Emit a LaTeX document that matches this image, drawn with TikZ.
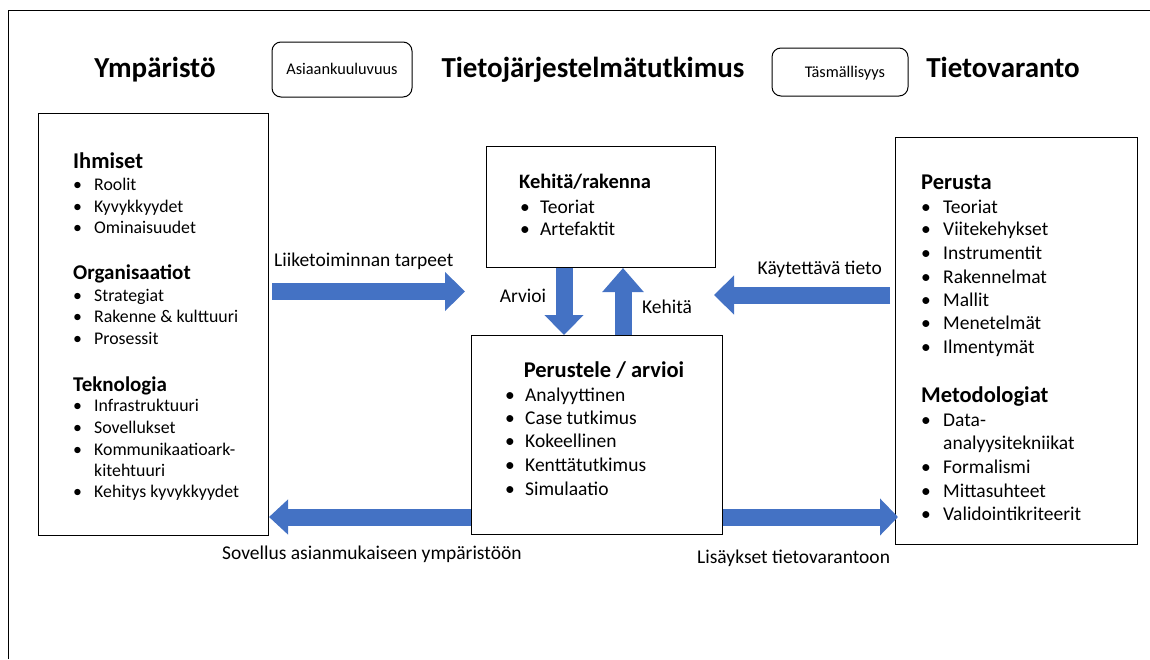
\documentclass[tikz,border=0pt]{standalone}
\usepackage{fontspec}
\setmainfont{Carlito}
\usetikzlibrary{arrows.meta,positioning}
\definecolor{arrowblue}{HTML}{4472C4}

\begin{document}
\begin{tikzpicture}
    [
    x=1pt,y=-1pt,
    every node/.style={inner sep=0pt},
    title/.style={font=\fontsize{29}{33}\selectfont\bfseries,text height=18.5pt,text depth=0pt},
    head/.style={anchor=west,font=\fontsize{22.5}{26}\selectfont\bfseries,text height=14.5pt,text depth=0pt},
    subhead/.style={anchor=west,font=\fontsize{21}{25}\selectfont\bfseries,text height=13.5pt,text depth=0pt},
    item/.style={anchor=west,font=\fontsize{19.5}{23}\selectfont,text height=12.5pt,text depth=0pt},
    envitem/.style={anchor=west,font=\fontsize{17.8}{21}\selectfont,text height=11.5pt,text depth=0pt},
    lbl/.style={item},
    box/.style={draw,line width=1pt,anchor=north west},
    tag/.style={draw,line width=1pt,rounded corners=9pt,font=\fontsize{16.3}{19}\selectfont,text height=10.5pt,text depth=0pt},
    bigarrow/.style={draw=arrowblue,line width=17pt,-{Triangle[length=20pt,width=38pt]}},
    ]
    \useasboundingbox (0,0) rectangle (1150,659);
    % frame
    \draw[line width=1pt] (8,659) -- (8,10) -- (1150,10);

    % titles
    \node[title] (t-env) at (155,68) {Ympäristö};
    \node[title] (t-is) at (593,68) {Tietojärjestelmätutkimus};
    \node[title] (t-kb) at (1003,68) {Tietovaranto};
    \node[tag,minimum width=140pt,minimum height=55pt] (relevance) at (342,69.5) {Asiaankuuluvuus};
    \node[tag,minimum width=136pt,minimum height=48pt] (rigor) at (840,72) {\hspace{10pt}Täsmällisyys};

    % boxes
    \node[box,minimum width=230pt,minimum height=422pt] (env) at (38,113) {};
    \node[box,minimum width=229pt,minimum height=121pt] (dev) at (486,146) {};
    \node[box,minimum width=251pt,minimum height=199pt] (eval) at (471,335) {};
    \node[box,minimum width=242pt,minimum height=407pt] (kb) at (895,137) {};

    % environment
    \node[head] (h-people) at (73,161) {Ihmiset};
    \foreach \y/\txt [count=\i] in {185/Roolit,207/Kyvykkyydet,228/Ominaisuudet}
      \node[envitem] (people-\i) at (73,\y) {\makebox[21pt][l]{\textbullet}\txt};
    \node[subhead] (h-org) at (73,273) {Organisaatiot};
    \foreach \y/\txt [count=\i] in {296/Strategiat,317/Rakenne \& kulttuuri,339/Prosessit}
      \node[envitem] (org-\i) at (73,\y) {\makebox[21pt][l]{\textbullet}\txt};
    \node[subhead] (h-tech) at (73,385) {Teknologia};
    \foreach \y/\txt [count=\i] in {406/Infrastruktuuri,428/Sovellukset,450/Kommunikaatioark-,492/Kehitys kyvykkyydet}
      \node[envitem] (tech-\i) at (73,\y) {\makebox[21pt][l]{\textbullet}\txt};
    \node[envitem] (tech-wrap) at (94,471) {kitehtuuri};

    % develop / build
    \node[subhead,font=\fontsize{20.5}{24}\selectfont\bfseries] (h-dev) at (519,182) {Kehitä/rakenna};
    \foreach \y/\txt [count=\i] in {207/Teoriat,229/Artefaktit}
      \node[item] (dev-\i) at (520,\y) {\makebox[20pt][l]{\textbullet}\txt};

    % justify / evaluate
    \node[head,anchor=center] (h-eval) at (604,370) {Perustele / arvioi};
    \foreach \y/\txt [count=\i] in {395/Analyyttinen,418/Case tutkimus,441/Kokeellinen,465/Kenttätutkimus,489/Simulaatio}
      \node[item] (eval-\i) at (505,\y) {\makebox[20pt][l]{\textbullet}\txt};

    % knowledge base
    \node[head] (h-found) at (921,182) {Perusta};
    \foreach \y/\txt [count=\i] in {207/Teoriat,229/Viitekehykset,253/Instrumentit,277/Rakennelmat,300/Mallit,323/Menetelmät,347/Ilmentymät}
      \node[item] (found-\i) at (921,\y) {\makebox[22pt][l]{\textbullet}\txt};
    \node[head] (h-meth) at (921,395) {Metodologiat};
    \foreach \y/\txt [count=\i] in {420/Data-,467/Formalismi,491/Mittasuhteet,514/Validointikriteerit}
      \node[item] (meth-\i) at (921,\y) {\makebox[22pt][l]{\textbullet}\txt};
    \node[item] (meth-wrap) at (943,443) {analyysitekniikat};

    % arrows
    \coordinate (need-end) at (465,291.5);
    \coordinate (use-end) at (714,295);
    \coordinate (arv-x) at (564,0);
    \coordinate (keh-x) at (623,0);
    \coordinate (low-y) at (0,517);
    \draw[bigarrow] ([xshift=3pt]env.east |- need-end) -- (need-end);
    \draw[bigarrow] ([xshift=-5pt]kb.west |- use-end) -- (use-end);
    \draw[bigarrow] (dev.south -| arv-x) -- (eval.north -| arv-x);
    \draw[bigarrow,-{Triangle[length=24pt,width=40pt]}] (eval.north -| keh-x) -- (dev.south -| keh-x);
    \draw[bigarrow,-{Triangle[length=19pt,width=34pt]}] (eval.west |- low-y) -- (env.east |- low-y);
    \draw[bigarrow,-{Triangle[length=18pt,width=36pt]}] (eval.east |- low-y) -- ([xshift=3pt]kb.west |- low-y);

    % arrow labels
    \node[lbl] (l-need) at (274,260) {Liiketoiminnan tarpeet};
    \node[lbl,anchor=east] (l-use) at (882,268) {Käytettävä tieto};
    \node[lbl,anchor=center] (l-arv) at (523,296) {Arvioi};
    \node[lbl,anchor=center] (l-keh) at (667,307) {Kehitä};
    \node[lbl] (l-apply) at (222,553) {Sovellus asianmukaiseen ympäristöön};
    \node[lbl] (l-add) at (697,557) {Lisäykset tietovarantoon};
  \end{tikzpicture}
\end{document}
